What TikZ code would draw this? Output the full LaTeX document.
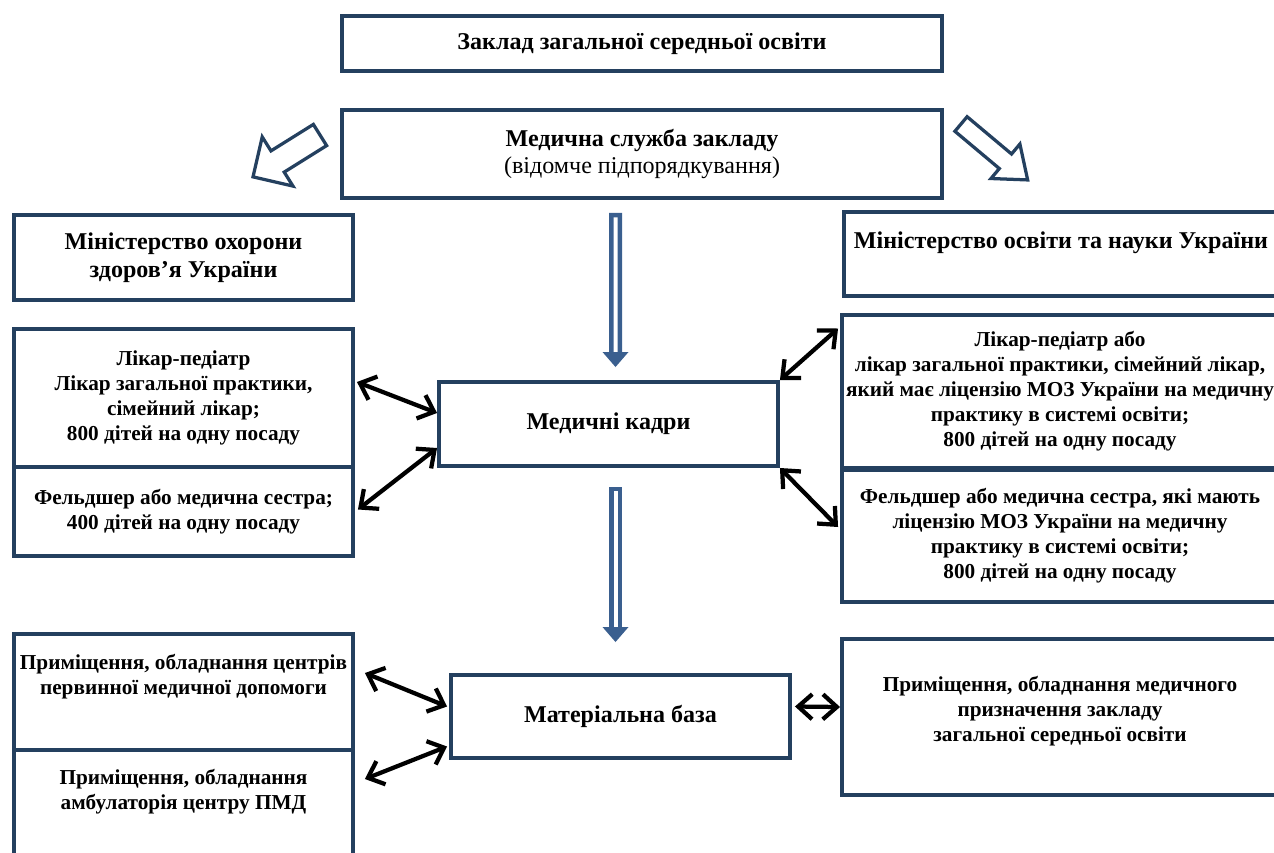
\documentclass[tikz,border=0pt]{standalone}
\usepackage{fontspec}
\setmainfont{Liberation Serif}
\usetikzlibrary{arrows.meta,calc}

\definecolor{navy}{HTML}{24405F}
\definecolor{shaftblue}{HTML}{3A5F8F}

\tikzset{
  box/.style={draw=navy, line width=0.08cm, fill=white, align=center, inner sep=0pt,
    font=\fontsize{12.1}{14.2}\selectfont\bfseries},
  headbox/.style={box, font=\fontsize{13.7}{15.9}\selectfont\bfseries},
  lbl/.style={inner sep=0pt, align=center, font=\fontsize{12.1}{14.2}\selectfont\bfseries},
  link/.style={line width=0.085cm,
    {Straight Barb[length=0.28cm,width=0.5cm]}-{Straight Barb[length=0.28cm,width=0.5cm]}},
  shaft/.style={draw=shaftblue, line width=0.09cm, double=white, double distance=0.08cm, line cap=rect},
  hollow/.style={draw=navy, line width=0.065cm, fill=white, line join=miter}
}

% blue double-line arrow down, from #1 to the head at #2
\newcommand{\shaftarrow}[2]{%
  \draw[shaft] (#1) -- (#2);
  \fill[shaftblue] ($(#2)+(-13,0)$) -- ($(#2)+(13,0)$) -- ($(#2)+(0,15)$) -- cycle;}

\begin{document}
\begin{tikzpicture}[x=0.02cm, y=-0.02cm]
  \useasboundingbox (0,0) rectangle (1274,852);
  \clip (0,0) rectangle (1274,852);

  % top
  \node[headbox, minimum width=12cm, minimum height=1.1cm] (zaklad) at (642,43.5) {Заклад загальної середньої освіти};
  \node[headbox, minimum width=12cm, minimum height=1.76cm] (sluzhba) at (642,154)
    {Медична служба закладу\\\mdseries(відомче підпорядкування)};
  \node[headbox, minimum width=6.78cm, minimum height=1.7cm] (moz) at (183.5,257.5) {Міністерство охорони\\здоров’я України};
  \node[box, minimum width=8.68cm, minimum height=1.68cm,
    label={[lbl, font=\fontsize{13.7}{15.9}\selectfont\bfseries, below=0.42cm]north:Міністерство освіти та науки України}] (mon) at (1061,254) {};

  % staff
  \node[box, minimum width=6.78cm, minimum height=2.76cm] (lped) at (183.5,398)
    {Лікар-педіатр\\Лікар загальної практики,\\сімейний лікар;\\800 дітей на одну посаду};
  \node[box, minimum width=6.78cm, minimum height=1.78cm] (lfeld) at (183.5,511.5)
    {Фельдшер або медична сестра;\\400 дітей на одну посаду};
  \node[headbox, minimum width=6.78cm, minimum height=1.68cm] (kadry) at (608.5,424) {Медичні кадри};
  \node[box, minimum width=8.72cm, minimum height=3.06cm] (rped) at (1060,391.5)
    {Лікар-педіатр або\\лікар загальної практики, сімейний лікар,\\який має ліцензію МОЗ України на медичну\\практику в системі освіти;\\800 дітей на одну посаду};
  \node[box, minimum width=8.72cm, minimum height=2.64cm] (rfeld) at (1060,536)
    {Фельдшер або медична сестра, які мають\\ліцензію МОЗ України на медичну\\практику в системі освіти;\\800 дітей на одну посаду};

  % premises
  \node[box, minimum width=6.78cm, minimum height=2.32cm,
    label={[lbl, below=0.44cm]north:Приміщення, обладнання центрів\\первинної медичної допомоги}] (lprim1) at (183.5,692) {};
  \node[box, minimum width=6.78cm, minimum height=2.6cm,
    label={[lbl, below=0.42cm]north:Приміщення, обладнання\\амбулаторія центру ПМД}] (lprim2) at (183.5,815) {};
  \node[headbox, minimum width=6.78cm, minimum height=1.66cm] (baza) at (620.5,716.5) {Матеріальна база};
  \node[box, minimum width=8.72cm, minimum height=3.12cm,
    label={[lbl, below=0.78cm]north:Приміщення, обладнання медичного\\призначення закладу\\загальної середньої освіти}] (rprim) at (1060,717) {};

  % hollow arrows
  \begin{scope}[shift={(320,135)}, rotate=212]
    \draw[hollow] (0,-12.5) -- (50,-12.5) -- (50,-29) -- (79,0) -- (50,29) -- (50,12.5) -- (0,12.5) -- cycle;
  \end{scope}
  \begin{scope}[shift={(961,124)}, rotate=-40]
    \draw[hollow] (0,-9.5) -- (58,-9.5) -- (58,-22.5) -- (87,0) -- (58,22.5) -- (58,9.5) -- (0,9.5) -- cycle;
  \end{scope}

  % blue arrows
  \coordinate (d1a) at ($(sluzhba.south)+(-26.5,19.5)$);
  \coordinate (d1b) at ($(kadry.north)+(7,-28)$);
  \coordinate (d2a) at ($(kadry.south)+(7,25.5)$);
  \coordinate (d2b) at ($(baza.north)+(-5,-46)$);
  \shaftarrow{d1a}{d1b}
  \shaftarrow{d2a}{d2b}

  % links
  \draw[link] ($(lped.east)+(2,-16)$) -- ($(kadry.west)+(0,-11)$);
  \draw[link] ($(kadry.west)+(0,24)$) -- ($(lfeld.east)+(3,-2)$);
  \draw[link] (kadry.north east) -- ($(rped.west)+(-2,-63)$);
  \draw[link] (kadry.south east) -- ($(rfeld.west)+(-2,-9)$);
  \draw[link] ($(lprim1.east)+(10,-19)$) -- ($(baza.west)+(-2,-10)$);
  \draw[link] ($(baza.west)+(-2,30)$) -- ($(lprim2.north east)+(10,31)$);
  \draw[link] ($(baza.east)+(3,-10)$) -- ($(rprim.west)+(0,-10)$);
\end{tikzpicture}
\end{document}
